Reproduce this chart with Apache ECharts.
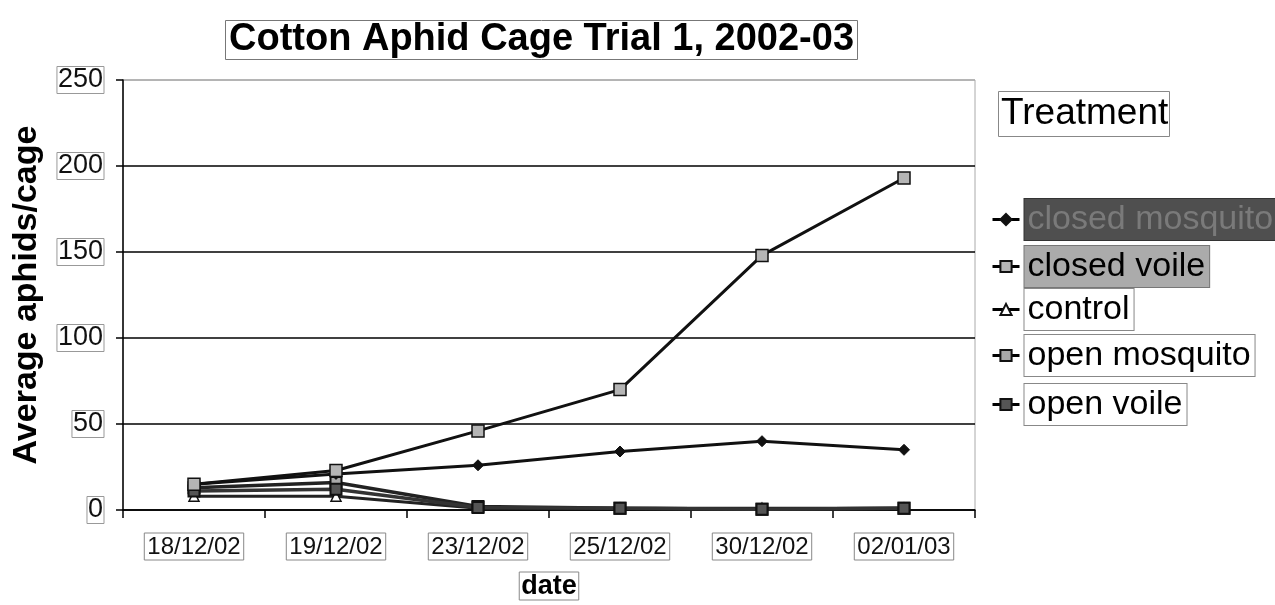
<!DOCTYPE html>
<html>
<head>
<meta charset="utf-8">
<script src="https://cdn.jsdelivr.net/npm/echarts@6/dist/echarts.min.js"></script>
<style>html,body{margin:0;padding:0;background:#fff;}#c{width:1275px;height:605px;}</style>
</head>
<body>
<div id="c"></div>
<script>
var categories = ['18/12/02', '19/12/02', '23/12/02', '25/12/02', '30/12/02', '02/01/03'];
var closedMosquito = [15, 21, 26, 34, 40, 35];
var closedVoile = [15, 23, 46, 70, 148, 193];
var control = [8, 8, 1, 1, 1, 1];
var openMosquito = [13, 16, 2, 1, 0.5, 1];
var openVoile = [11, 12, 1.5, 1, 0.5, 1];
var yTicks = [0, 50, 100, 150, 200, 250];

var FONT = '"Liberation Sans", Arial, sans-serif';
var chart = echarts.init(document.getElementById('c'));

function legendAt(name, top, ts) {
  return {
    show: true, orient: 'vertical', left: 991, top: top,
    itemWidth: 27, itemHeight: 14, selectedMode: false, padding: 0,
    data: [{ name: name }],
    lineStyle: { width: 3, color: '#000' },
    textStyle: Object.assign({
      fontFamily: FONT, fontSize: 34, color: '#000', lineHeight: 37,
      padding: [2, 4, 2, 3], borderColor: '#888', borderWidth: 1, backgroundColor: '#fff'
    }, ts || {})
  };
}

var option = {
  animation: false,
  backgroundColor: '#fff',
  title: [
    {
      text: 'Cotton Aphid Cage Trial 1, 2002-03', left: 225, top: 20,
      padding: [0, 4, 0, 4], borderColor: '#777', borderWidth: 1,
      textStyle: { fontFamily: FONT, fontWeight: 'bold', fontSize: 38, lineHeight: 40, color: '#000' }
    },
    {
      text: 'Treatment', left: 998, top: 91,
      padding: [2, 2, 2, 3], borderColor: '#888', borderWidth: 1,
      textStyle: { fontFamily: FONT, fontWeight: 'normal', fontSize: 37, lineHeight: 42, color: '#000' }
    }
  ],
  legend: [
    legendAt('closed mosquito', 198, { backgroundColor: '#4f4f4f', color: '#7a7a7a', borderColor: '#333' }),
    legendAt('closed voile', 245, { backgroundColor: '#ababab', borderColor: '#777' }),
    legendAt('control', 288),
    legendAt('open mosquito', 334),
    legendAt('open voile', 383)
  ],
  grid: { left: 123, right: 300, top: 80, bottom: 95, show: true, borderColor: '#aaa', borderWidth: 1, containLabel: false, outerBoundsMode: 'none' },
  xAxis: {
    type: 'category', data: categories, boundaryGap: true,
    name: 'date', nameLocation: 'middle', nameGap: 62,
    nameTextStyle: { fontFamily: FONT, fontWeight: 'bold', fontSize: 27, color: '#000', borderColor: '#888', borderWidth: 1, padding: [1, 2, 0, 2] },
    axisLine: { lineStyle: { color: '#000', width: 1.5 } },
    axisTick: { show: true, inside: false, length: 8, lineStyle: { color: '#000', width: 1.5 } },
    axisLabel: { fontFamily: FONT, fontSize: 24, color: '#111', margin: 23, borderColor: '#888', borderWidth: 1, padding: [2, 3, 1, 3] },
    splitLine: { show: false }
  },
  yAxis: {
    type: 'value', min: yTicks[0], max: yTicks[yTicks.length - 1], interval: 50,
    name: 'Average aphids/cage', nameLocation: 'middle', nameGap: 79,
    nameTextStyle: { fontFamily: FONT, fontWeight: 'bold', fontSize: 34, color: '#000' },
    axisLine: { show: true, lineStyle: { color: '#000', width: 1.5 } },
    axisTick: { show: true, length: 7, lineStyle: { color: '#000', width: 1.5 } },
    axisLabel: {
      fontFamily: FONT, fontSize: 27, color: '#111', margin: 19,
      borderColor: '#999', borderWidth: 1, padding: [0, 1, 0, 1],
      formatter: function (v) { return yTicks.indexOf(v) >= 0 ? String(v) : ''; }
    },
    splitLine: { show: true, lineStyle: { color: ['#000', '#000', '#000', '#000', '#000', '#aaa'], width: 1.5 } }
  },
  series: [
    {
      name: 'closed mosquito', type: 'line', data: closedMosquito,
      symbol: 'diamond', symbolSize: 11,
      lineStyle: { color: '#111', width: 3 },
      itemStyle: { color: '#111', borderColor: '#111', borderWidth: 1 }, z: 3
    },
    {
      name: 'closed voile', type: 'line', data: closedVoile,
      symbol: 'rect', symbolSize: 12,
      lineStyle: { color: '#111', width: 3 },
      itemStyle: { color: '#b5b5b5', borderColor: '#111', borderWidth: 1.5 }, z: 4
    },
    {
      name: 'control', type: 'line', data: control,
      symbol: 'triangle', symbolSize: 10,
      lineStyle: { color: '#222', width: 3 },
      itemStyle: { color: '#fff', borderColor: '#111', borderWidth: 1.5 }, z: 2
    },
    {
      name: 'open mosquito', type: 'line', data: openMosquito,
      symbol: 'rect', symbolSize: 11,
      lineStyle: { color: '#222', width: 3.5 },
      itemStyle: { color: '#aaa', borderColor: '#111', borderWidth: 2 }, z: 2
    },
    {
      name: 'open voile', type: 'line', data: openVoile,
      symbol: 'rect', symbolSize: 11,
      lineStyle: { color: '#333', width: 3.5 },
      itemStyle: { color: '#555', borderColor: '#111', borderWidth: 2 }, z: 2
    }
  ]
};
chart.setOption(option);
</script>
</body>
</html>
